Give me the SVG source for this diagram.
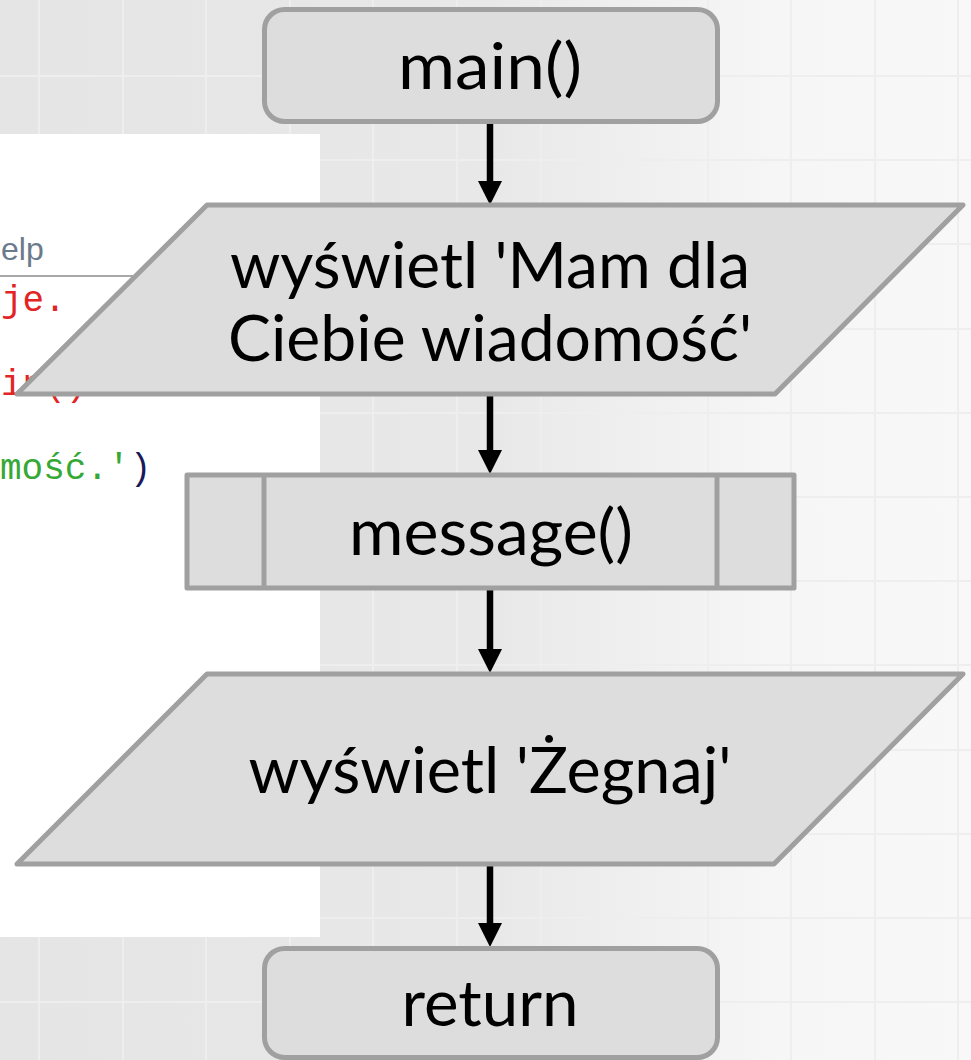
<svg xmlns="http://www.w3.org/2000/svg" width="971" height="1060" viewBox="0 0 971 1060">
<defs>
<linearGradient id="bg" x1="0" y1="0" x2="971" y2="0" gradientUnits="userSpaceOnUse">
<stop offset="0" stop-color="#e5e5e5"/>
<stop offset="0.5" stop-color="#e8e8e8"/>
<stop offset="0.8" stop-color="#f6f6f6"/>
<stop offset="1" stop-color="#f8f8f8"/>
</linearGradient>
<marker id="ah" viewBox="0 0 24 24" markerWidth="24" markerHeight="24" refX="4" refY="12" orient="auto" markerUnits="userSpaceOnUse">
<path d="M0,0 L24,12 L0,24 Z" fill="#000"/>
</marker>
<style>
.grid line{stroke:#eeeeee;stroke-width:2}
.shape{fill:#dddddd;stroke:#a0a0a0;stroke-width:5;stroke-linejoin:round}
.div{stroke:#a0a0a0;stroke-width:5}
.lbl{font-family:Lato,"Open Sans",sans-serif;font-size:64px;fill:#000;text-anchor:middle}
.conn line{stroke:#000;stroke-width:6.5;marker-end:url(#ah)}
.code{font-family:"Liberation Mono","DejaVu Sans Mono",monospace;font-size:36px}
</style>
</defs>
<rect width="971" height="1060" fill="url(#bg)"/>
<g class="grid">
<line x1="39" y1="0" x2="39" y2="1060"/>
<line x1="123" y1="0" x2="123" y2="1060"/>
<line x1="206" y1="0" x2="206" y2="1060"/>
<line x1="290" y1="0" x2="290" y2="1060"/>
<line x1="373" y1="0" x2="373" y2="1060"/>
<line x1="457" y1="0" x2="457" y2="1060"/>
<line x1="541" y1="0" x2="541" y2="1060"/>
<line x1="624" y1="0" x2="624" y2="1060"/>
<line x1="708" y1="0" x2="708" y2="1060"/>
<line x1="791" y1="0" x2="791" y2="1060"/>
<line x1="875" y1="0" x2="875" y2="1060"/>
<line x1="958" y1="0" x2="958" y2="1060"/>
<line x1="0" y1="76" x2="971" y2="76"/>
<line x1="0" y1="160" x2="971" y2="160"/>
<line x1="0" y1="244" x2="971" y2="244"/>
<line x1="0" y1="329" x2="971" y2="329"/>
<line x1="0" y1="413" x2="971" y2="413"/>
<line x1="0" y1="497" x2="971" y2="497"/>
<line x1="0" y1="581" x2="971" y2="581"/>
<line x1="0" y1="665" x2="971" y2="665"/>
<line x1="0" y1="750" x2="971" y2="750"/>
<line x1="0" y1="834" x2="971" y2="834"/>
<line x1="0" y1="918" x2="971" y2="918"/>
<line x1="0" y1="1002" x2="971" y2="1002"/>
</g>
<g id="code-panel">
<rect x="0" y="134" width="320" height="803" fill="#ffffff"/>
<text x="1" y="260" font-family="'Liberation Sans',Arial,sans-serif" font-size="32" fill="#6b7b8c">elp</text>
<line x1="0" y1="276" x2="200" y2="276" stroke="#a8a8a8" stroke-width="2"/>
<text class="code" x="1" y="311" fill="#e32424">je.</text>
<text class="code" x="1" y="395" fill="#e32424">in()</text>
<text class="code" x="0" y="479" fill="#35a835">mość.'<tspan fill="#1a1a5a">)</tspan></text>
</g>
<g class="conn" id="connectors">
<line x1="490" y1="124" x2="490" y2="185"/>
<line x1="490" y1="396" x2="490" y2="454"/>
<line x1="490" y1="590" x2="490" y2="653"/>
<line x1="490" y1="866" x2="490" y2="927"/>
</g>
<g id="node-main">
<rect class="shape" x="264.5" y="9.5" width="453" height="112" rx="20"/>
<text class="lbl" x="490" y="89" textLength="184" lengthAdjust="spacingAndGlyphs">main()</text>
</g>
<g id="node-print1">
<polygon class="shape" points="207,205 963,205 775,394 17,394"/>
<text class="lbl" x="490" y="288" textLength="520" lengthAdjust="spacingAndGlyphs">wyświetl 'Mam dla</text>
<text class="lbl" x="490" y="361" textLength="524" lengthAdjust="spacingAndGlyphs">Ciebie wiadomość'</text>
</g>
<g id="node-message">
<rect class="shape" x="187" y="475" width="607" height="113"/>
<line class="div" x1="264" y1="475" x2="264" y2="588"/>
<line class="div" x1="717" y1="475" x2="717" y2="588"/>
<text class="lbl" x="491" y="555" textLength="284" lengthAdjust="spacingAndGlyphs">message()</text>
</g>
<g id="node-print2">
<polygon class="shape" points="207,674 963,674 774,864 17,864"/>
<text class="lbl" x="490" y="793" textLength="483" lengthAdjust="spacingAndGlyphs">wyświetl 'Żegnaj'</text>
</g>
<g id="node-return">
<rect class="shape" x="264.5" y="948.5" width="453" height="109" rx="20"/>
<text class="lbl" x="490" y="1026" textLength="177" lengthAdjust="spacingAndGlyphs">return</text>
</g>
</svg>
